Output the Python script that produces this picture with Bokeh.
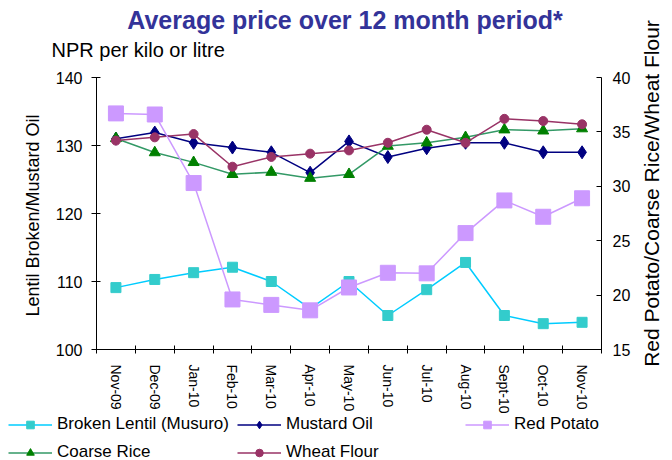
import math
from bokeh.plotting import figure
from bokeh.models import (Range1d, LinearAxis, FixedTicker, SingleIntervalTicker,
                          Legend, LegendItem, Label, ColumnDataSource)
from bokeh.embed import file_html
from bokeh.resources import INLINE

# ---------------- data ----------------
months = ["Nov-09", "Dec-09", "Jan-10", "Feb-10", "Mar-10", "Apr-10", "May-10",
          "Jun-10", "Jul-10", "Aug-10", "Sept-10", "Oct-10", "Nov-10"]
broken_lentil = [109.1, 110.3, 111.3, 112.1, 110.0, 106.0, 110.0, 105.0, 108.8, 112.8, 105.0, 103.8, 104.0]
mustard_oil = [131.0, 131.9, 130.4, 129.7, 129.0, 126.0, 130.6, 128.3, 129.6, 130.4, 130.4, 129.0, 129.0]
red_potato = [36.7, 36.6, 30.3, 19.6, 19.1, 18.6, 20.7, 22.05, 22.0, 25.7, 28.7, 27.2, 28.9]
coarse_rice = [34.4, 33.1, 32.2, 31.1, 31.3, 30.75, 31.1, 33.7, 34.0, 34.5, 35.2, 35.1, 35.3]
wheat_flour = [34.2, 34.5, 34.8, 31.8, 32.7, 33.0, 33.3, 34.0, 35.2, 34.0, 36.2, 36.0, 35.7]
left_limits = (100, 140)
right_limits = (15, 40)

series = [
    # label, column, axis, line colour, marker, size, marker colour
    ("Broken Lentil (Musuro)", "lentil", "default", "#00CCFF", "square", 10, "#33CCCC"),
    ("Mustard Oil", "mustard", "default", "#000080", "diamond", 13, "#000080"),
    ("Red Potato", "potato", "right", "#CC99FF", "square", 15, "#CC99FF"),
    ("Coarse Rice", "rice", "right", "#339966", "triangle", 11, "#008000"),
    ("Wheat Flour", "wheat", "right", "#993366", "circle", 9, "#993366"),
]
draw_order = ["lentil", "mustard", "rice", "wheat", "potato"]

FONT = "Liberation Sans"
LW = 1.5

# ---------------- layout (pixels) ----------------
W, H = 672, 460
PL, PR, PT, PB = 96, 601, 77, 349      # plotting area inside the canvas

x = list(range(1, len(months) + 1))
n = len(months)
ppx = (PR - PL) / n                       # px per category
x0 = 0.5 - PL / ppx
x1 = n + 0.5 + (W - PR) / ppx


def stretched(lo, hi):
    ppy = (PB - PT) / (hi - lo)
    return Range1d(lo - (H - PB) / ppy, hi + PT / ppy)


src = ColumnDataSource(dict(x=x, lentil=broken_lentil, mustard=mustard_oil,
                            potato=red_potato, rice=coarse_rice, wheat=wheat_flour))

p = figure(width=W, height=H, output_backend="svg", toolbar_location=None,
           x_range=Range1d(x0, x1), y_range=stretched(*left_limits),
           x_axis_type=None, y_axis_type=None,
           min_border=0, min_border_left=0, min_border_right=0,
           min_border_top=0, min_border_bottom=0)
p.extra_y_ranges = {"right": stretched(*right_limits)}
p.outline_line_color = None
p.background_fill_color = "white"
p.border_fill_color = "white"

# ---------------- axes ----------------
minor = [v - 0.5 for v in x] + [x[-1] + 0.5]
xaxis = LinearAxis(ticker=FixedTicker(ticks=x, minor_ticks=minor),
                   fixed_location=left_limits[0], bounds=(0.5, n + 0.5))
xaxis.major_label_overrides = {v: m for v, m in zip(x, months)}
xaxis.major_label_orientation = -math.pi / 2
xaxis.major_tick_line_color = None
xaxis.major_tick_out = 0
xaxis.major_tick_in = 0
xaxis.minor_tick_in = 4
xaxis.minor_tick_out = 4
xaxis.minor_tick_line_color = "black"
xaxis.major_label_standoff = 11
xaxis.major_label_text_font = FONT
xaxis.major_label_text_font_size = "14px"
xaxis.major_label_text_color = "black"
xaxis.axis_line_color = "black"
p.add_layout(xaxis, "below")

yleft = LinearAxis(ticker=SingleIntervalTicker(interval=10, num_minor_ticks=0),
                   fixed_location=0.5, bounds=left_limits)
yleft.major_tick_in = 4
yleft.major_tick_out = 5
yleft.minor_tick_line_color = None
yleft.major_label_standoff = 9
yleft.major_label_text_font = FONT
yleft.major_label_text_font_size = "16px"
yleft.major_label_text_color = "black"
p.add_layout(yleft, "left")

yright = LinearAxis(y_range_name="right",
                    ticker=SingleIntervalTicker(interval=5, num_minor_ticks=0),
                    fixed_location=n + 0.5, bounds=right_limits)
yright.major_tick_in = 5
yright.major_tick_out = 0
yright.minor_tick_line_color = None
yright.major_label_standoff = 11
yright.major_label_text_font = FONT
yright.major_label_text_font_size = "16px"
yright.major_label_text_color = "black"
p.add_layout(yright, "right")

# ---------------- series ----------------
by_col = {s[1]: s for s in series}
rends = {}
for col in draw_order:
    label, c, rng, lc, mk, sz, mc = by_col[col]
    lr = p.line("x", c, source=src, line_color=lc, line_width=LW, y_range_name=rng)
    sr = p.scatter("x", c, source=src, marker=mk, size=sz, fill_color=mc, line_color=mc,
                   y_range_name=rng)
    rends[c] = [lr, sr]

# ---------------- legend ----------------
legend = Legend(items=[LegendItem(label=s[0], renderers=rends[s[1]]) for s in series],
                orientation="horizontal", ncols=3, location=(8, -2))
legend.label_text_font = FONT
legend.label_text_font_size = "17px"
legend.label_text_color = "black"
legend.glyph_width = 44
legend.glyph_height = 19
legend.label_standoff = 5
legend.label_width = 171
legend.spacing = 8
legend.padding = 0
legend.margin = 0
legend.border_line_color = None
legend.background_fill_alpha = 0
p.add_layout(legend, "center")

# ---------------- titles ----------------
p.add_layout(Label(x=344.5, y=H - 19, x_units="screen", y_units="screen",
                   text="Average price over 12 month period*",
                   text_align="center", text_baseline="middle",
                   text_font=FONT, text_font_size="25px", text_font_style="bold",
                   text_color="#333399"))
p.add_layout(Label(x=51, y=H - 49, x_units="screen", y_units="screen",
                   text="NPR per kilo or litre",
                   text_align="left", text_baseline="middle",
                   text_font=FONT, text_font_size="20px", text_color="black"))
p.add_layout(Label(x=32, y=H - 215, x_units="screen", y_units="screen",
                   text="Lentil Broken/Mustard Oil", angle=math.pi / 2,
                   text_align="center", text_baseline="middle",
                   text_font=FONT, text_font_size="18px", text_color="black"))
p.add_layout(Label(x=651, y=H - 193, x_units="screen", y_units="screen",
                   text="Red Potato/Coarse Rice/Wheat Flour", angle=math.pi / 2,
                   text_align="center", text_baseline="middle",
                   text_font=FONT, text_font_size="21px", text_color="black"))

open("out.html", "w").write(file_html(p, INLINE))
